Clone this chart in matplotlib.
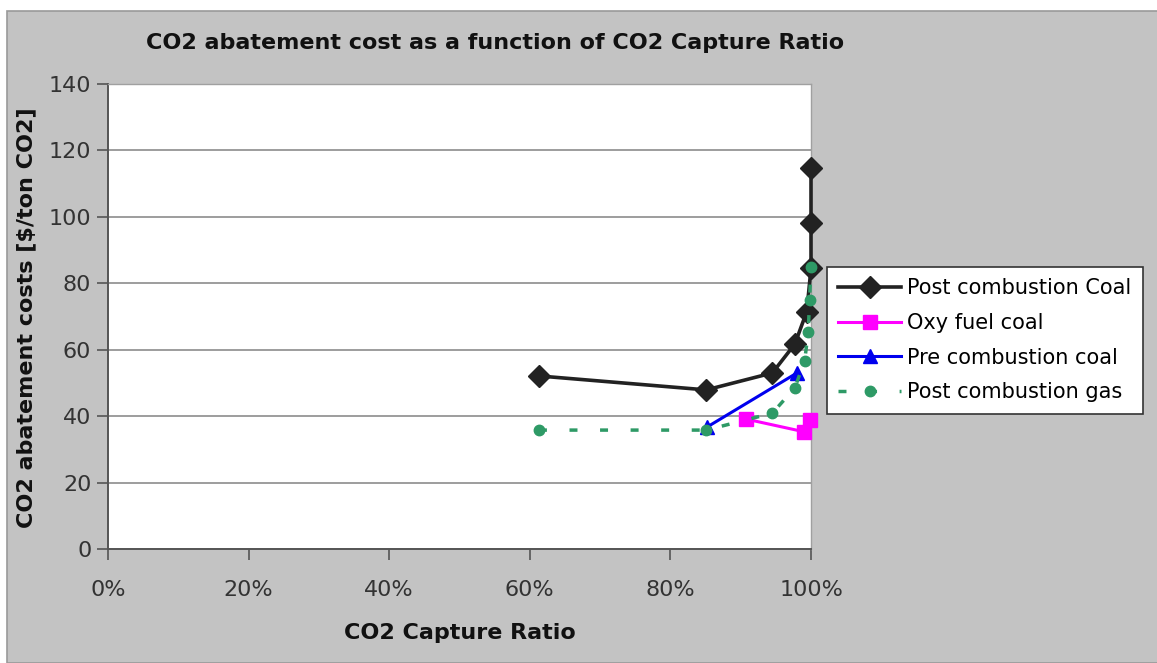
import matplotlib.pyplot as plt
from matplotlib.patches import Rectangle
from matplotlib.ticker import FuncFormatter

plt.rcParams['font.family'] = ['DejaVu Sans']

# capture ratio (fraction) and abatement cost [$/ton CO2]
post_coal_x = [0.613, 0.851, 0.945, 0.977, 0.994, 1.000, 1.000, 1.000]
post_coal_y = [52.1, 47.9, 53.0, 61.7, 71.5, 84.5, 98.3, 114.8]

oxy_x = [0.908, 0.990, 0.998]
oxy_y = [39.1, 35.3, 38.9]

pre_x = [0.852, 0.980]
pre_y = [36.7, 53.0]

post_gas_x = [0.613, 0.851, 0.945, 0.977, 0.991, 0.996, 0.998, 1.000]
post_gas_y = [35.8, 35.8, 40.9, 48.5, 56.7, 65.2, 75.0, 85.0]

gray = '#c3c3c3'

fig = plt.figure(figsize=(11.57, 6.63), dpi=100)
fig.patch.set_facecolor('white')
fig.patches.append(Rectangle((7 / 1157, 0), 1, 1 - 11 / 663, transform=fig.transFigure,
                             facecolor=gray, edgecolor='#999999', linewidth=1.2, zorder=-10))

ax = fig.add_axes([108 / 1157, 1 - 549 / 663, (811 - 108) / 1157, (549 - 84) / 663])
ax.set_facecolor('white')

ax.plot(post_coal_x, post_coal_y, color='#222222', lw=2.6, marker='D', ms=11,
        label='Post combustion Coal', zorder=3, clip_on=False)
ax.plot(oxy_x, oxy_y, color='#ff00ff', lw=2.2, marker='s', ms=10,
        label='Oxy fuel coal', zorder=4, clip_on=False)
ax.plot(pre_x, pre_y, color='#0000ee', lw=2.2, marker='^', ms=10,
        label='Pre combustion coal', zorder=4, clip_on=False)
ax.plot(post_gas_x, post_gas_y, color='#2e9a66', lw=2.5, ls=(0, (2.3, 6.5)), marker='o', ms=7.5,
        label='Post combustion gas', zorder=5, clip_on=False)

ax.set_xlim(0, 1)
ax.set_ylim(0, 140)
ax.set_xticks([0, 0.2, 0.4, 0.6, 0.8, 1.0])
ax.set_yticks(range(0, 141, 20))
ax.xaxis.set_major_formatter(FuncFormatter(lambda v, p: f'{v * 100:.0f}%'))
ax.grid(axis='y', color='#8c8c8c', lw=1.2)
ax.set_axisbelow(True)

for side in ['top', 'right']:
    ax.spines[side].set_color('#a0a0a0')
    ax.spines[side].set_linewidth(1)
for side in ['left', 'bottom']:
    ax.spines[side].set_color('#555555')
    ax.spines[side].set_linewidth(1.4)

ax.tick_params(axis='both', direction='out', length=8, width=1.2, color='#555555',
               labelsize=16, labelcolor='#333333')
ax.tick_params(axis='x', pad=14)
ax.tick_params(axis='y', pad=4)

fig.text(495 / 1157, 1 - 43 / 663, 'CO2 abatement cost as a function of CO2 Capture Ratio',
         ha='center', va='center', fontsize=16, fontweight='bold', color='#111111')
fig.text(460 / 1157, 1 - 633 / 663, 'CO2 Capture Ratio', ha='center', va='center',
         fontsize=16, fontweight='bold', color='#111111')
fig.text(26 / 1157, 1 - 318 / 663, 'CO2 abatement costs [$/ton CO2]', ha='center', va='center',
         rotation=90, fontsize=16, fontweight='bold', color='#111111')

leg = ax.legend(loc='upper left', bbox_to_anchor=(827 / 1157, 1 - 267 / 663),
                bbox_transform=fig.transFigure, frameon=True, fancybox=False,
                fontsize=15, handlelength=3.0, handletextpad=0.3, borderpad=0.55,
                labelspacing=0.7, borderaxespad=0, framealpha=1, facecolor='white')
leg.get_frame().set_edgecolor('#333333')
leg.get_frame().set_linewidth(1.2)
leg.set_zorder(10)

fig.savefig('out.png', dpi=100)
